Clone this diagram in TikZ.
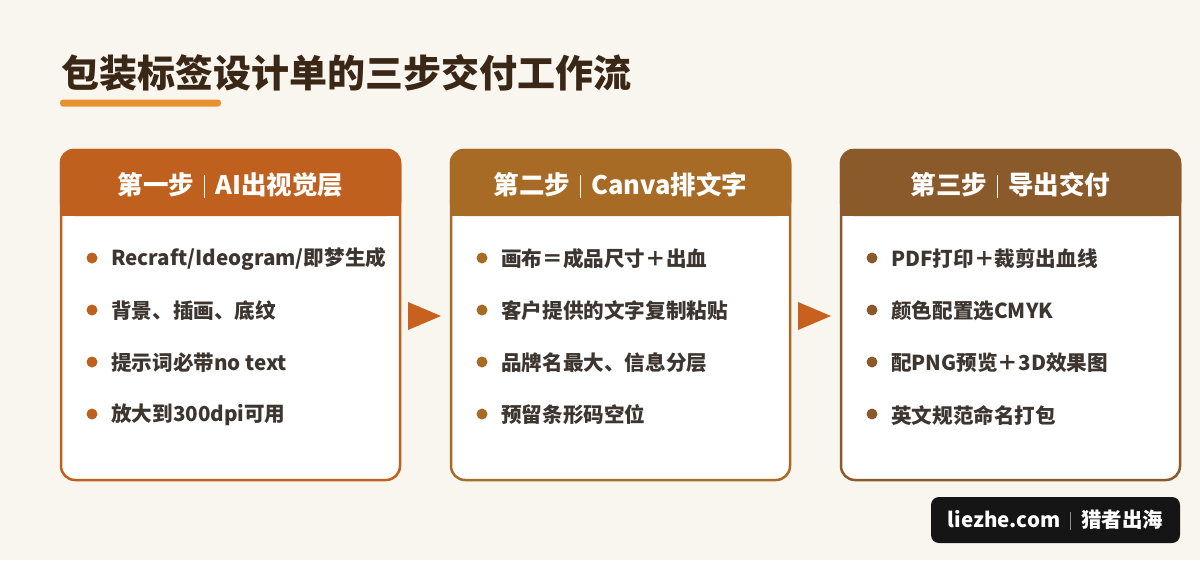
\documentclass[tikz,border=0pt]{standalone}
\usepackage{fontspec}
\setmainfont{Noto Sans CJK SC}
\usetikzlibrary{positioning}
\definecolor{bgc}{HTML}{F9F6EF}
\definecolor{titlec}{HTML}{3B2716}
\definecolor{barc}{HTML}{E8912F}
\definecolor{txtc}{HTML}{3D3530}
\definecolor{cA}{HTML}{C0601E}
\definecolor{cB}{HTML}{A86B25}
\definecolor{cC}{HTML}{8B5A2B}
\definecolor{arrc}{HTML}{C8601E}
\definecolor{wmc}{HTML}{151515}
\tikzset{
  cardbody/.style={draw=#1, line width=2.5pt, fill=white, rounded corners=14pt},
  headtxt/.style={text=white, font=\fontsize{25.5}{30}\selectfont\bfseries, anchor=center},
  itemtxt/.style={text=txtc, font=\fontsize{20.6}{25}\selectfont\bfseries, anchor=west, inner sep=0pt},
  dotc/.style={circle, fill=#1, minimum size=11pt, inner sep=0pt},
  arrowtri/.style={fill=arrc, draw=none},
}
\newcommand{\sepbar}{\hspace{10pt}\textcolor{white!70!black!10}{\rule[-3pt]{1pt}{23pt}}\hspace{10pt}}
\begin{document}
\begin{tikzpicture}[x=1pt,y=-1pt]
\useasboundingbox (0,0) rectangle (1200,560);
\fill[bgc] (0,0) rectangle (1200,560);
% title
\node[anchor=west, text=titlec, font=\fontsize{38}{44}\selectfont\bfseries, inner sep=0pt] (title) at (61,73) {包装标签设计单的三步交付工作流};
\fill[barc, rounded corners=3pt] (60,99.5) rectangle (221,106.5);
% cards
\foreach \x/\c/\n in {61/cA/a, 451/cB/b, 841/cC/c}{
  \begin{scope}
  \draw[cardbody=\c] (\x,150) rectangle ++(339,330);
  \fill[\c, rounded corners=14pt] (\x-1.25,148.75) -- (\x-1.25,216) -- (\x+340.25,216) -- (\x+340.25,148.75) -- cycle;
  \fill[\c] (\x-1.25,200) rectangle (\x+340.25,216);
  \coordinate (\n) at (\x,150);
  \end{scope}
}
\node[headtxt] (ha) at (230.5,185) {第一步\sepbar AI出视觉层};
\node[headtxt] (hb) at (620.5,185) {第二步\sepbar Canva排文字};
\node[headtxt] (hc) at (1010.5,185) {第三步\sepbar 导出交付};
% items
\foreach \i/\t in {0/{Recraft/Ideogram/即梦生成}, 1/背景、插画、底纹, 2/提示词必带no text, 3/放大到300dpi可用}{
  \node[dotc=cA] at (92,258+52*\i) {};
  \node[itemtxt] at (111,259+52*\i) {\t};
}
\foreach \i/\t in {0/画布＝成品尺寸＋出血, 1/客户提供的文字复制粘贴, 2/品牌名最大、信息分层, 3/预留条形码空位}{
  \node[dotc=cB] at (482,258+52*\i) {};
  \node[itemtxt] at (501,259+52*\i) {\t};
}
\foreach \i/\t in {0/PDF打印＋裁剪出血线, 1/颜色配置选CMYK, 2/配PNG预览＋3D效果图, 3/英文规范命名打包}{
  \node[dotc=cC] at (872,258+52*\i) {};
  \node[itemtxt] at (891,259+52*\i) {\t};
}
% arrows
\fill[arrowtri] (408,302) -- (441,316) -- (408,330) -- cycle;
\fill[arrowtri] (798,302) -- (831,316) -- (798,330) -- cycle;
% watermark
\node[fill=wmc, rounded corners=8pt, minimum width=249pt, minimum height=46pt, text=white, font=\fontsize{20.5}{24}\selectfont\bfseries, inner sep=0pt] (wm) at (1055.5,520) {liezhe.com\hspace{10pt}\textcolor{white!55!black}{\rule[-2pt]{1pt}{18pt}}\hspace{10pt}猎者出海};
\end{tikzpicture}
\end{document}
